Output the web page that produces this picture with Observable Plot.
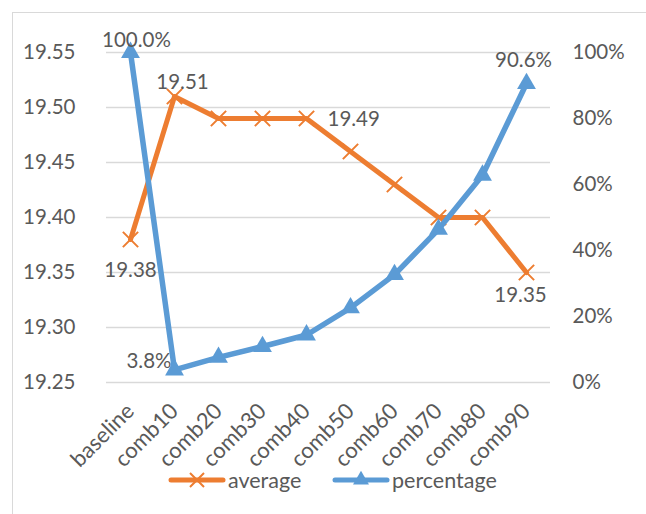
<!DOCTYPE html>
<html><head><meta charset="utf-8">
<script src="https://cdn.jsdelivr.net/npm/d3@7"></script>
<script src="https://cdn.jsdelivr.net/npm/@observablehq/plot@0.6"></script>
<style>
body{margin:0;background:#fff;}
#wrap{position:relative;width:646px;height:514px;overflow:hidden;font-family:Lato,sans-serif;color:#595959;}
#frame{position:absolute;left:12px;top:12px;width:700px;height:600px;border-top:1.5px solid #d9d9d9;border-left:1.5px solid #d9d9d9;}
#chart{position:absolute;left:0;top:0;}
#legend{position:absolute;top:468px;left:0;width:646px;height:24px;font-size:21.5px;}
#legend .item{position:absolute;top:0;height:24px;display:flex;align-items:center;}
#legend span{margin-left:2px;}
</style></head>
<body><div id="wrap"><div id="frame"></div><div id="chart"></div><div id="legend"></div></div>
<script>
const categories = ["baseline","comb10","comb20","comb30","comb40","comb50","comb60","comb70","comb80","comb90"];
const average = [19.38,19.51,19.49,19.49,19.49,19.46,19.43,19.40,19.40,19.35];
const percentage = [100.0,3.8,7.6,10.9,14.4,22.6,32.7,46.4,62.8,90.6];
const leftTicks = [19.25,19.30,19.35,19.40,19.45,19.50,19.55];
const rightTicks = [0,20,40,60,80,100];
const seriesNames = ["average","percentage"];
const colors = ["#ED7D31","#5B9BD5"];

const Y0 = 19.25, Y1 = 19.55;
const toLeft = p => Y0 + p / 100 * (Y1 - Y0);
const rows = categories.map((c, i) => ({cat: c, i, avg: average[i], pct: percentage[i], pctY: toLeft(percentage[i])}));
const pick = (...idx) => rows.filter(d => idx.includes(d.i));
const fmtPct = d => d.pct.toFixed(1) + "%";
const fmtAvg = d => d.avg.toFixed(2);
const FS = 20.5;
const labelStyle = {fill: "#595959", fontSize: FS};

const chart = Plot.plot({
  width: 646, height: 465,
  marginLeft: 106, marginRight: 96, marginTop: 52, marginBottom: 83,
  style: {fontFamily: "Lato, sans-serif", fontSize: FS + "px", color: "#595959", background: "transparent", overflow: "visible"},
  x: {type: "point", domain: categories, padding: 0.5},
  y: {domain: [Y0, Y1]},
  marks: [
    Plot.gridY(leftTicks, {stroke: "#d9d9d9", strokeOpacity: 1, strokeWidth: 1.5}),
    Plot.axisY(leftTicks, {anchor: "left", tickSize: 0, tickPadding: 31, tickFormat: d => d.toFixed(2), label: null, fontSize: FS}),
    Plot.axisY(rightTicks.map(toLeft), {anchor: "right", tickSize: 0, tickPadding: 22, textAnchor: "start", tickFormat: v => Math.round((v - Y0) / (Y1 - Y0) * 100) + "%", label: null, fontSize: FS}),
    Plot.axisX({tickSize: 0, tickRotate: -45, tickPadding: 25, label: null, fontSize: 22}),
    Plot.line(rows, {x: "cat", y: "avg", stroke: colors[0], strokeWidth: 5}),
    Plot.dot(rows, {x: "cat", y: "avg", symbol: "times", stroke: colors[0], strokeWidth: 2, r: 7}),
    Plot.line(rows, {x: "cat", y: "pctY", stroke: colors[1], strokeWidth: 5.5}),
    Plot.dot(rows, {x: "cat", y: "pctY", symbol: "triangle", fill: colors[1], r: 7}),
    Plot.text(pick(0), {x: "cat", y: "pctY", text: fmtPct, dx: 6, dy: -12, ...labelStyle}),
    Plot.text(pick(1), {x: "cat", y: "pctY", text: fmtPct, textAnchor: "end", dx: -3, dy: -9, ...labelStyle}),
    Plot.text(pick(9), {x: "cat", y: "pctY", text: fmtPct, dx: -3, dy: -23, ...labelStyle}),
    Plot.text(pick(1), {x: "cat", y: "avg", text: fmtAvg, dx: 8, dy: -14, ...labelStyle}),
    Plot.text(pick(4), {x: "cat", y: "avg", text: fmtAvg, textAnchor: "start", dx: 21, dy: 1, ...labelStyle}),
    Plot.text(pick(0), {x: "cat", y: "avg", text: fmtAvg, dy: 31, ...labelStyle}),
    Plot.text(pick(9), {x: "cat", y: "avg", text: fmtAvg, dx: -6, dy: 23, ...labelStyle})
  ]
});
document.getElementById("chart").appendChild(chart);

// legend
const legend = d3.select("#legend");
const legendLeft = [168, 332];
seriesNames.forEach((name, k) => {
  const item = legend.append("div").attr("class", "item").style("left", legendLeft[k] + "px");
  const svg = item.append("svg").attr("width", 58).attr("height", 20);
  svg.append("line").attr("x1", 3).attr("x2", 55).attr("y1", 10).attr("y2", 10)
    .attr("stroke", colors[k]).attr("stroke-width", 5).attr("stroke-linecap", "round");
  const sym = k === 0 ? d3.symbolTimes : d3.symbolTriangle;
  svg.append("path").attr("transform", "translate(29,10)")
    .attr("d", d3.symbol(sym, k === 0 ? 130 : 110)())
    .attr("fill", k === 0 ? "none" : colors[k])
    .attr("stroke", k === 0 ? colors[k] : "none").attr("stroke-width", 2);
  item.append("span").text(name);
});
</script>
</body></html>
